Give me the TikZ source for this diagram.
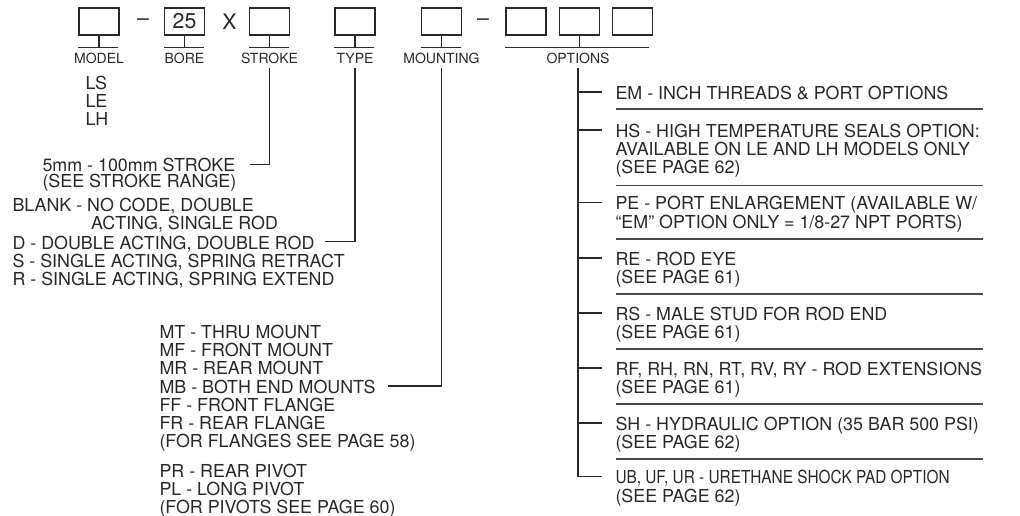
\documentclass[tikz,border=0pt]{standalone}
\usepackage{fontspec}
\usepackage{graphicx}
\setmainfont{TeX Gyre Heros}
\usetikzlibrary{positioning}

\definecolor{ink}{RGB}{40,40,40}

\tikzset{every picture/.style={line width=0.75pt}}
\tikzset{
  codebox/.style={draw=ink, line width=1pt, minimum width=30pt, minimum height=20.25pt, inner sep=0pt, text=ink, font=\fontsize{16}{16}\selectfont},
  codelbl/.style={inner sep=3pt, text=ink, font=\fontsize{10.5}{11}\selectfont},
  bigtxt/.style={inner sep=0.75pt, text=ink, font=\fontsize{16}{16}\selectfont},
  desc/.style={anchor=north west, inner sep=0.75pt, align=left, text=ink, font=\fontsize{13.4}{13.7}\selectfont},
  lead/.style={draw=ink, line width=1pt},
  sepline/.style={draw=ink!85, line width=1.2pt},
}

\begin{document}
\begin{tikzpicture}[x=0.75pt,y=0.75pt,yscale=-1,xscale=1]
\useasboundingbox (0,0) rectangle (1020,516);

%Shape: Rectangle [id:model]
\node[codebox] (modelbox) at (99,21.5) {};
% Text Node
\node[bigtxt] (dashA) at (143,22) {--};
%Shape: Rectangle [id:bore]
\node[codebox] (borebox) at (184.5,21.5) {25};
% Text Node
\node[bigtxt] (xmark) at (229.5,21.5) {X};
%Shape: Rectangle [id:stroke]
\node[codebox] (strokebox) at (269.5,21.5) {};
%Shape: Rectangle [id:type]
\node[codebox] (typebox) at (355,21.5) {};
%Shape: Rectangle [id:mount]
\node[codebox] (mountbox) at (441.5,21.5) {};
% Text Node
\node[bigtxt] (dashB) at (483,22) {--};
%Shape: Rectangle [id:options]
\node[codebox] (optboxA) at (526,21.5) {};
\node[codebox, right=9pt of optboxA] (optboxB) {};
\node[codebox, right=9pt of optboxB] (optboxC) {};

%Straight Lines [id:stems]
\draw[lead] (modelbox.south) -- ++(0,12);
\draw[lead] (borebox.south) -- ++(0,12);
\draw[lead] (strokebox.south) -- ++(0,12);
\draw[lead] (typebox.south) -- ++(0,12);
\draw[lead] (mountbox.south) -- ++(0,12);
\draw[lead] (optboxB.south) -- ++(0,12);
%Straight Lines [id:bars]
\draw[lead] (modelbox.south west) ++(0,12) -- ++(40,0);
\draw[lead] (borebox.south west) ++(0,12) -- ++(40,0);
\draw[lead] (strokebox.south west) ++(0,12) -- ++(40,0);
\draw[lead] (typebox.south west) ++(0,12) -- ++(40,0);
\draw[lead] (mountbox.south west) ++(0,12) -- ++(40,0);
\draw[lead] (optboxA.south west) ++(0,12) -- ++(144,0);

% Text Node
\node[codelbl] (modellbl) at (99,58) {MODEL};
\node[codelbl] (borelbl) at (184.5,58) {BORE};
\node[codelbl] (strokelbl) at (269.5,58) {STROKE};
\node[codelbl] (typelbl) at (355,58) {TYPE};
\node[codelbl] (mountlbl) at (441.5,58) {MOUNTING};
\node[codelbl] (optlbl) at (578,58) {OPTIONS};

% Text Node
\node[desc] (modeldesc) at (84,74.5) {LS\\LE\\LH};
% Text Node
\node[desc, font=\fontsize{13.4}{12}\selectfont] (strokedesc) at (41,157) {5mm - 100mm STROKE\\(SEE STROKE RANGE)};
% Text Node
\node[desc] (blankdesc) at (11,196.5) {BLANK - NO CODE, DOUBLE\\\hspace*{59pt}ACTING, SINGLE ROD};
% Text Node
\node[desc] (typedesc) at (11,234.5) {D - DOUBLE ACTING, DOUBLE ROD\\S - SINGLE ACTING, SPRING RETRACT\\R - SINGLE ACTING, SPRING EXTEND};
% Text Node
\node[desc] (mountdesc) at (158,323.5) {MT - THRU MOUNT\\MF - FRONT MOUNT\\MR - REAR MOUNT\\MB - BOTH END MOUNTS\\FF - FRONT FLANGE\\FR - REAR FLANGE\\(FOR FLANGES SEE PAGE 58)};
% Text Node
\node[desc] (pivotdesc) at (158,462.5) {PR - REAR PIVOT\\PL - LONG PIVOT\\(FOR PIVOTS SEE PAGE 60)};

%Straight Lines [id:leaders]
\coordinate (strokeend) at (250,164.5);
\coordinate (typeend) at (325,241.5);
\coordinate (mountend) at (388,386);
\draw[lead] (strokelbl.south) |- (strokeend);
\draw[lead] (typelbl.south) |- (typeend);
\draw[lead] (mountlbl.south) |- (mountend);

% Text Node
\node[desc] (emdesc) at (614,84.5) {EM - INCH THREADS \& PORT OPTIONS};
\node[desc] (hsdesc) at (614,122.5) {HS - HIGH TEMPERATURE SEALS OPTION:\\AVAILABLE ON LE AND LH MODELS ONLY\\(SEE PAGE 62)};
\node[desc] (pedesc) at (614,195) {PE - PORT ENLARGEMENT (AVAILABLE W/\\“EM” OPTION ONLY = 1/8-27 NPT PORTS)};
\node[desc] (redesc) at (614,250.5) {RE - ROD EYE\\(SEE PAGE 61)};
\node[desc] (rsdesc) at (614,305.5) {RS - MALE STUD FOR ROD END\\(SEE PAGE 61)};
\node[desc] (rfdesc) at (614,360.5) {RF, RH, RN, RT, RV, RY - ROD EXTENSIONS\\(SEE PAGE 61)};
\node[desc] (shdesc) at (614,415.5) {SH - HYDRAULIC OPTION (35 BAR 500 PSI)\\(SEE PAGE 62)};
\node[desc] (ubdesc) at (614,469) {\scalebox{0.86}[1]{UB, UF, UR - URETHANE SHOCK PAD OPTION}\\(SEE PAGE 62)};

%Straight Lines [id:option ticks]
\coordinate (emtick) at (602,92);
\coordinate (hstick) at (602,130);
\coordinate (petick) at (602,202.5);
\coordinate (retick) at (602,258);
\coordinate (rstick) at (602,313);
\coordinate (rftick) at (602,368);
\coordinate (shtick) at (602,423);
\coordinate (ubtick) at (602,476.5);
\draw[lead] (optlbl.south) |- (ubtick);
\draw[lead] (optlbl.south |- emtick) -- (emtick);
\draw[lead] (optlbl.south |- hstick) -- (hstick);
\draw[lead] (optlbl.south |- petick) -- (petick);
\draw[lead] (optlbl.south |- retick) -- (retick);
\draw[lead] (optlbl.south |- rstick) -- (rstick);
\draw[lead] (optlbl.south |- rftick) -- (rftick);
\draw[lead] (optlbl.south |- shtick) -- (shtick);

%Straight Lines [id:separators]
\draw[sepline] (616,109) -- (983,109);
\draw[sepline] (616,185.5) -- (983,185.5);
\draw[sepline] (616,239) -- (983,239);
\draw[sepline] (616,294) -- (983,294);
\draw[sepline] (616,349) -- (983,349);
\draw[sepline] (616,404) -- (983,404);
\draw[sepline] (616,459) -- (983,459);

\end{tikzpicture}
\end{document}
